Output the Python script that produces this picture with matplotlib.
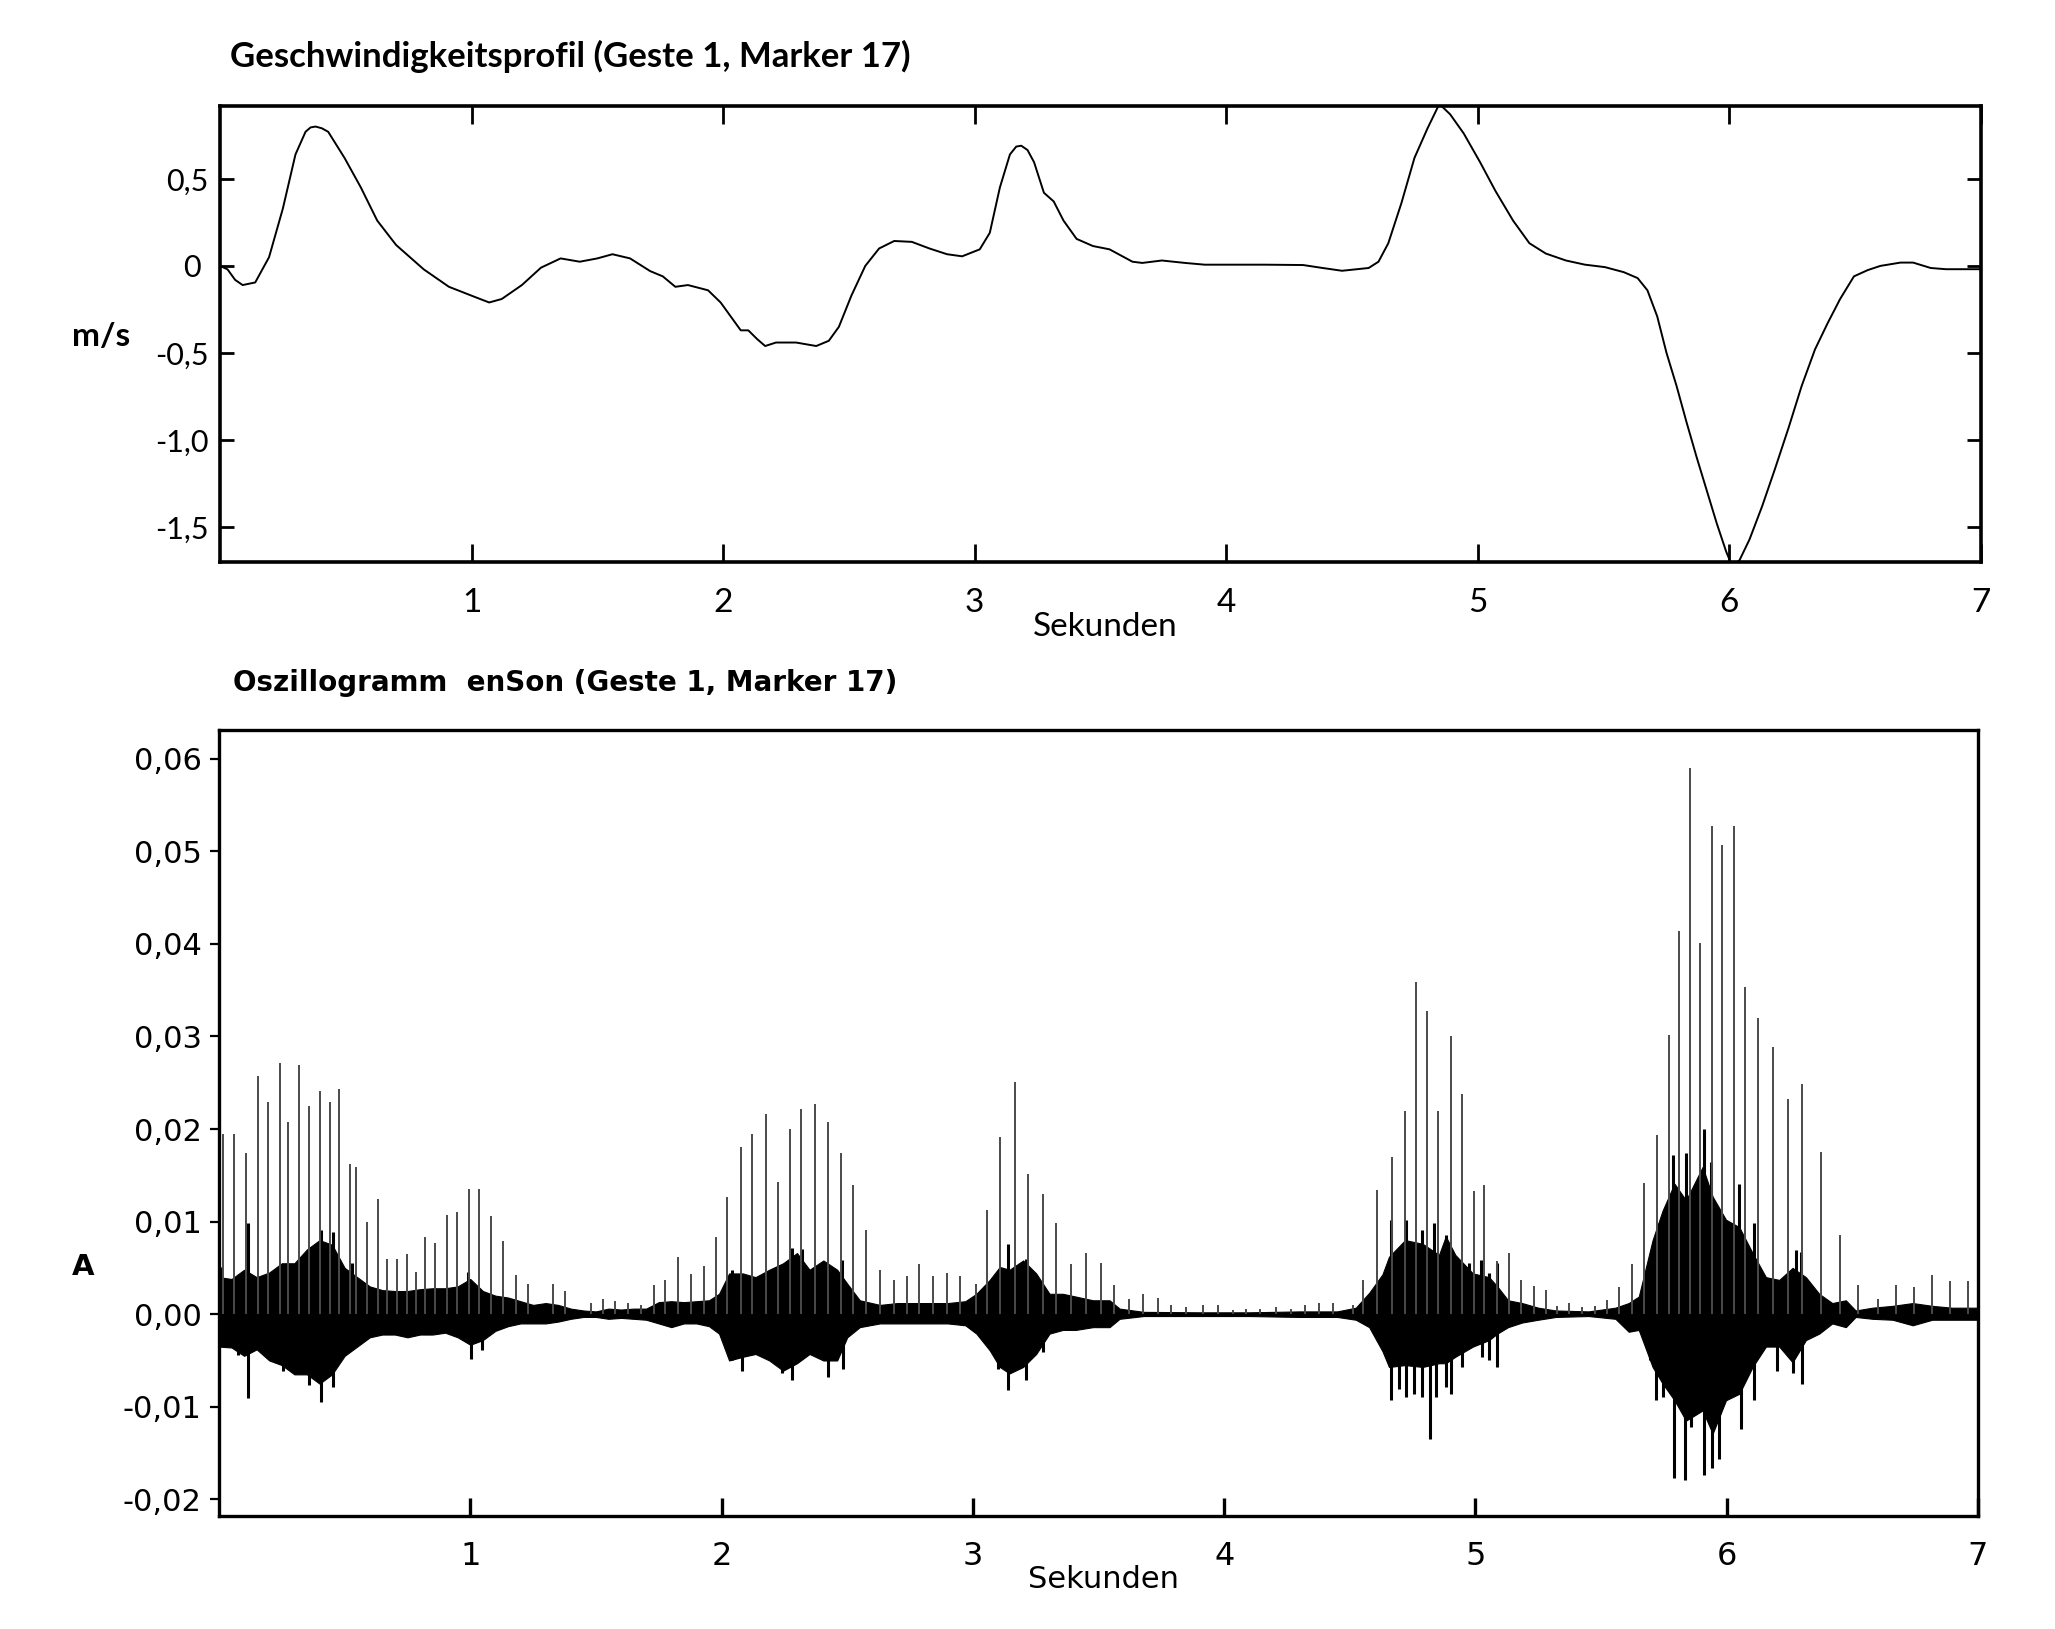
import numpy as np
import matplotlib
matplotlib.use("Agg")
import matplotlib.pyplot as plt

# velocity profile (Geste 1, Marker 17)
VEL_T = [0.00, 0.03, 0.06, 0.09, 0.14, 0.195, 0.25, 0.30, 0.34, 0.36, 0.38, 0.405, 0.43, 0.495, 0.56, 0.625, 0.70,
         0.81, 0.91, 1.016, 1.07, 1.12, 1.20, 1.276, 1.354, 1.43, 1.50, 1.56, 1.63, 1.71, 1.76, 1.81,
         1.86, 1.94, 1.99, 2.04, 2.07, 2.10, 2.135, 2.167, 2.21, 2.29, 2.37, 2.42, 2.46, 2.51, 2.565,
         2.62, 2.68, 2.75, 2.82, 2.89, 2.95, 3.02, 3.06, 3.10, 3.14, 3.165, 3.185, 3.21, 3.236, 3.275, 3.314,
         3.353, 3.405, 3.47, 3.536, 3.627, 3.666, 3.744, 3.836, 3.914, 4.149, 4.305, 4.383, 4.46, 4.566,
         4.605, 4.644, 4.696, 4.748, 4.80, 4.847, 4.89, 4.944, 5.009, 5.07, 5.14, 5.205, 5.27, 5.35,
         5.426, 5.505, 5.58, 5.635, 5.674, 5.713, 5.75, 5.79, 5.83, 5.87, 5.91, 5.95, 5.987, 6.01,
         6.04, 6.08, 6.13, 6.18, 6.235, 6.287, 6.34, 6.39, 6.44, 6.495, 6.55, 6.60, 6.68, 6.73, 6.80,
         6.86, 6.96, 7.00]
VEL_V = [0.0, -0.02, -0.08, -0.11, -0.095, 0.05, 0.33, 0.64, 0.77, 0.795, 0.80, 0.79, 0.77, 0.62, 0.45, 0.26, 0.12,
         -0.02, -0.12, -0.18, -0.21, -0.19, -0.11, -0.01, 0.043, 0.024, 0.043, 0.067, 0.043, -0.03, -0.06, -0.12,
         -0.11, -0.14, -0.21, -0.31, -0.37, -0.37, -0.42, -0.46, -0.44, -0.44, -0.46, -0.43, -0.35, -0.17, 0.0,
         0.10, 0.143, 0.138, 0.10, 0.067, 0.055, 0.095, 0.19, 0.45, 0.64, 0.685, 0.69, 0.665, 0.595, 0.42, 0.37,
         0.26, 0.155, 0.114, 0.095, 0.024, 0.017, 0.031, 0.017, 0.007, 0.007, 0.005, -0.012, -0.028, -0.012,
         0.024, 0.13, 0.36, 0.62, 0.79, 0.93, 0.87, 0.76, 0.595, 0.43, 0.26, 0.13, 0.071, 0.031,
         0.007, -0.007, -0.036, -0.07, -0.14, -0.29, -0.50, -0.69, -0.90, -1.10, -1.29, -1.48, -1.64, -1.72,
         -1.69, -1.57, -1.38, -1.17, -0.93, -0.69, -0.48, -0.33, -0.19, -0.06, -0.024, 0.0, 0.019, 0.019, -0.012,
         -0.019, -0.019, -0.019]

# oscillogram: pulse spikes (amplitude in 1/1000)
SPIKE_T = [0.015, 0.059, 0.106, 0.154, 0.195, 0.241, 0.276, 0.318, 0.359, 0.400, 0.441, 0.477, 0.520, 0.547,
           0.588, 0.631, 0.668, 0.708, 0.747, 0.782, 0.819, 0.859, 0.906, 0.946, 0.994, 1.036, 1.084, 1.129,
           1.182, 1.229, 1.329, 1.376, 1.481,
           1.529, 1.574, 1.627, 1.680, 1.730, 1.774, 1.826, 1.880, 1.931, 1.977, 2.023, 2.077, 2.122, 2.175,
           2.224, 2.271, 2.317, 2.371, 2.424, 2.477, 2.522, 2.575, 2.629, 2.688, 2.738, 2.786, 2.840, 2.896,
           2.949, 3.012,
           3.058, 3.108, 3.168, 3.221, 3.280, 3.332, 3.391, 3.451, 3.509, 3.561, 3.622, 3.679, 3.736, 3.789,
           3.848, 3.915, 3.974, 4.034, 4.087, 4.142, 4.206, 4.266, 4.321, 4.378, 4.435, 4.511,
           4.553, 4.609, 4.667, 4.720, 4.765, 4.806, 4.852, 4.901, 4.948, 4.994, 5.035, 5.087, 5.133, 5.180,
           5.233, 5.282, 5.325, 5.374, 5.425, 5.475, 5.524, 5.573, 5.623, 5.671, 5.724, 5.769, 5.811, 5.854,
           5.895, 5.941, 5.981, 6.029,
           6.072, 6.124, 6.184, 6.242, 6.300, 6.377, 6.449, 6.524, 6.601, 6.672, 6.747, 6.818, 6.890, 6.961]
SPIKE_A = [19.5, 19.5, 17.4, 25.7, 22.9, 27.1, 20.8, 26.9, 22.5, 24.1, 22.9, 24.3, 16.2, 15.9,
           10.0, 12.4, 6.0, 6.0, 6.5, 4.6, 8.3, 7.7, 10.7, 11.0, 13.5, 13.5, 10.6, 7.9,
           4.2, 3.3, 3.3, 2.5, 1.2,
           1.6, 1.4, 1.2, 1.0, 3.1, 3.7, 6.2, 4.3, 5.2, 8.3, 12.7, 18.1, 19.5, 21.6,
           14.3, 20.0, 22.2, 22.7, 20.8, 17.4, 13.9, 9.1, 4.8, 3.7, 4.1, 5.4, 4.1, 4.5,
           4.1, 3.3,
           11.2, 19.1, 25.1, 15.1, 13.0, 9.8, 5.4, 6.6, 5.5, 3.1, 1.6, 2.2, 1.8, 1.0,
           0.8, 1.0, 1.0, 0.4, 0.6, 0.6, 0.8, 0.6, 1.0, 1.2, 1.2, 1.0,
           3.7, 13.4, 17.0, 21.9, 35.9, 32.8, 21.9, 30.1, 23.8, 13.3, 14.0, 5.7, 6.6, 3.7,
           3.0, 2.6, 0.9, 1.2, 0.8, 0.9, 1.5, 2.9, 5.4, 14.2, 19.4, 30.2, 41.4, 59.0,
           40.1, 52.7, 50.7, 52.7,
           35.3, 32.0, 28.9, 23.2, 24.9, 17.5, 8.6, 3.2, 1.6, 3.2, 2.9, 4.2, 3.6, 3.6]

# noise band envelope (1/1000)
ENV_T = [0.00, 0.05, 0.10, 0.15, 0.20, 0.25, 0.30, 0.35, 0.40, 0.45, 0.50, 0.55, 0.60, 0.65, 0.70,
         0.75, 0.80, 0.85, 0.90, 0.95, 1.00, 1.05, 1.10, 1.15, 1.20, 1.25, 1.30, 1.35, 1.40, 1.45,
         1.50, 1.55, 1.60, 1.65, 1.70, 1.75, 1.80, 1.85, 1.90, 1.95, 1.99, 2.03, 2.085, 2.135, 2.19,
         2.245, 2.30, 2.35, 2.405, 2.46, 2.50, 2.55, 2.63, 2.70, 2.80, 2.90, 2.97, 3.014, 3.067, 3.107,
         3.146, 3.20, 3.252, 3.305, 3.358, 3.41, 3.478, 3.544, 3.584, 3.68, 3.90, 4.10, 4.30, 4.45,
         4.524, 4.577, 4.63, 4.656, 4.72, 4.79, 4.855, 4.882, 4.92, 4.99, 5.054, 5.087, 5.13,
         5.186, 5.25, 5.32, 5.45, 5.557, 5.61, 5.65, 5.705, 5.745, 5.792, 5.838, 5.904, 5.944,
         5.997, 6.05, 6.103, 6.156, 6.209, 6.262, 6.315, 6.368, 6.42, 6.474, 6.513,
         6.58, 6.66, 6.74, 6.818, 6.897, 6.977, 7.0]
ENV_UP = [4.0, 3.8, 4.8, 4.0, 4.5, 5.5, 5.5, 7.0, 8.0, 7.5, 5.0, 4.0, 3.0, 2.6, 2.5,
          2.5, 2.7, 2.8, 2.8, 3.0, 3.8, 2.5, 2.0, 1.8, 1.4, 1.0, 1.2, 1.0, 0.6, 0.4,
          0.3, 0.6, 0.5, 0.6, 0.6, 1.3, 1.4, 1.3, 1.4, 1.5, 2.2, 4.4, 4.4, 4.0, 4.8,
          5.5, 6.6, 4.8, 5.8, 4.8, 3.3, 1.5, 1.0, 1.2, 1.2, 1.2, 1.4, 2.2, 3.7, 5.1,
          4.8, 5.8, 4.4, 2.2, 2.2, 1.9, 1.5, 1.5, 0.6, 0.25, 0.2, 0.2, 0.3, 0.3,
          0.7, 2.3, 4.3, 6.2, 8.0, 7.6, 6.4, 8.4, 6.4, 4.4, 4.0, 3.0, 1.5,
          1.2, 0.7, 0.4, 0.3, 0.7, 1.2, 1.9, 8.0, 11.2, 14.1, 12.3, 15.9, 12.7,
          10.2, 9.4, 6.6, 4.0, 3.7, 5.0, 4.0, 2.2, 1.2, 1.5, 0.4,
          0.7, 0.9, 1.2, 0.9, 0.7, 0.7, 0.7]
ENV_LO = [-3.5, -3.6, -4.5, -3.8, -5.0, -5.5, -6.5, -6.5, -7.5, -6.5, -4.5, -3.5, -2.5, -2.2, -2.2,
          -2.5, -2.2, -2.2, -2.0, -2.5, -3.3, -2.8, -1.8, -1.3, -1.0, -1.0, -1.0, -0.8, -0.5, -0.3,
          -0.3, -0.5, -0.4, -0.5, -0.6, -1.0, -1.4, -1.0, -1.0, -1.3, -2.1, -5.0, -4.6, -4.3, -5.0,
          -6.1, -5.3, -4.3, -5.0, -5.0, -2.5, -1.4, -1.0, -1.0, -1.0, -1.0, -1.2, -2.1, -3.9, -5.7,
          -6.4, -5.7, -4.3, -2.1, -1.7, -1.7, -1.4, -1.4, -0.5, -0.2, -0.2, -0.2, -0.3, -0.3,
          -0.6, -1.4, -4.0, -5.7, -5.5, -5.7, -5.3, -5.3, -4.6, -3.5, -2.8, -2.1, -1.4,
          -0.9, -0.6, -0.3, -0.2, -0.5, -1.9, -1.7, -5.7, -7.5, -9.3, -11.5, -10.4, -12.9,
          -9.3, -8.6, -5.7, -3.5, -3.5, -5.2, -2.8, -2.1, -1.0, -1.4, -0.3,
          -0.5, -0.6, -1.2, -0.6, -0.6, -0.6, -0.6]

# strong strokes inside the band (1/1000)
BURST_T = [0.008, 0.114, 0.366, 0.406, 0.452, 0.531, 0.991, 2.041, 2.227, 2.28, 2.32, 2.478,
           3.14, 3.213, 4.663, 4.723, 4.789, 4.835, 4.882, 4.908, 4.948, 4.974, 5.021, 5.054, 5.087,
           5.732, 5.785, 5.838, 5.908, 5.937, 6.05, 6.11, 6.275, 6.295]
BURST_UP = [5.1, 9.9, 6.9, 9.1, 8.9, 5.5, 4.6, 4.8, 5.3, 7.1, 7.0, 5.8,
            7.6, 6.0, 10.2, 10.2, 9.1, 9.8, 8.5, 6.9, 4.7, 5.5, 5.8, 4.4, 5.5,
            9.8, 17.2, 17.4, 20.0, 16.4, 14.1, 9.8, 6.9, 6.7]
DIP_T = [0.075, 0.114, 0.253, 0.306, 0.359, 0.406, 0.452, 1.002, 1.048, 2.041, 2.081, 2.24, 2.28,
         2.425, 2.485, 3.10, 3.14, 3.213, 3.279,
         4.663, 4.696, 4.723, 4.756, 4.789, 4.818, 4.842, 4.882, 4.901, 4.948, 5.027, 5.054, 5.087,
         5.696, 5.719, 5.745, 5.789, 5.835, 5.858, 5.908, 5.941, 5.97, 6.057, 6.11, 6.202, 6.262, 6.30]
DIP_LO = [-4.4, -9.1, -6.1, -6.4, -7.7, -9.5, -7.9, -4.8, -3.9, -5.0, -6.1, -6.4, -7.1,
          -6.8, -5.9, -5.9, -8.2, -7.1, -4.1,
          -9.3, -8.1, -8.9, -8.6, -8.9, -13.5, -8.9, -7.9, -8.6, -5.7, -4.6, -5.0, -5.7,
          -5.0, -9.3, -8.9, -17.7, -17.9, -12.2, -17.4, -16.6, -15.6, -12.4, -9.3, -6.1, -6.4, -7.5]

X_TICKS = [1, 2, 3, 4, 5, 6, 7]
X_LABELS = ["1", "2", "3", "4", "5", "6", "7"]
V_TICKS = [0.5, 0.0, -0.5, -1.0, -1.5]
V_LABELS = ["0,5", "0 ", "-0,5", "-1,0", "-1,5"]
A_TICKS = [0.06, 0.05, 0.04, 0.03, 0.02, 0.01, 0.0, -0.01, -0.02]
A_LABELS = ["0,06", "0,05", "0,04", "0,03", "0,02", "0,01", "0,00", "-0,01", "-0,02"]

W, H = 2055, 1629
fig = plt.figure(figsize=(W / 100, H / 100), dpi=100)

TOP_FONT = "Lato"
BOT_FONT = "DejaVu Sans"

# ---- top panel: velocity
ax1 = fig.add_axes([220 / W, 1 - 562 / H, (1981 - 220) / W, (562 - 106) / H])
ax1.plot(VEL_T, VEL_V, color="black", lw=1.4)
ax1.set_xlim(0, 7)
ax1.set_ylim(-1.70, 0.918)
ax1.set_xticks(X_TICKS)
ax1.set_xticklabels(X_LABELS, fontfamily=TOP_FONT, fontsize=24)
ax1.set_yticks(V_TICKS)
ax1.set_yticklabels(V_LABELS, fontfamily=TOP_FONT, fontsize=22)
ax1.tick_params(axis="x", direction="in", length=13, width=2.0, pad=19, top=True)
ax1.tick_params(axis="y", direction="in", length=10, width=2.0, pad=8, right=True)
for s in ax1.spines.values():
    s.set_linewidth(2.6)

fig.text(230 / W, 1 - 56 / H, "Geschwindigkeitsprofil (Geste 1, Marker 17)",
         fontfamily=TOP_FONT, fontweight="bold", fontsize=25, ha="left", va="center")
fig.text(101 / W, 1 - 336 / H, "m/s", fontfamily=TOP_FONT, fontweight="bold",
         fontsize=24, ha="center", va="center")
fig.text(1105 / W, 1 - 627 / H, "Sekunden", fontfamily=TOP_FONT, fontsize=24,
         ha="center", va="center")

# ---- bottom panel: oscillogram
ax2 = fig.add_axes([219 / W, 1 - 1516 / H, (1978 - 219) / W, (1516 - 730) / H])
env_up = np.array(ENV_UP) * 1e-3
env_lo = np.array(ENV_LO) * 1e-3
ax2.fill_between(ENV_T, env_lo, env_up, color="black", lw=0.8, edgecolor="black")
ax2.plot([0, 7], [0, 0], color="black", lw=1.0)
ax2.vlines(BURST_T, 0, np.array(BURST_UP) * 1e-3, color="black", lw=2.2)
ax2.vlines(DIP_T, 0, np.array(DIP_LO) * 1e-3, color="black", lw=2.2)
ax2.vlines(SPIKE_T, 0, np.array(SPIKE_A) * 1e-3, color="#4a4a4a", lw=1.4)
ax2.set_xlim(0, 7)
ax2.set_ylim(-0.0218, 0.0631)
ax2.set_xticks(X_TICKS)
ax2.set_xticklabels(X_LABELS, fontfamily=BOT_FONT, fontsize=23)
ax2.set_yticks(A_TICKS)
ax2.set_yticklabels(A_LABELS, fontfamily=BOT_FONT, fontsize=22)
ax2.tick_params(axis="x", direction="in", length=13, width=2.4, pad=18)
ax2.tick_params(axis="y", direction="out", length=6.5, width=1.6, pad=6)
for s in ax2.spines.values():
    s.set_linewidth(2.4)

fig.text(233 / W, 1 - 683 / H, "Oszillogramm  enSon (Geste 1, Marker 17)",
         fontfamily=BOT_FONT, fontweight="bold", fontsize=20, ha="left", va="center")
fig.text(83 / W, 1 - 1267 / H, "A", fontfamily=BOT_FONT, fontweight="bold",
         fontsize=21, ha="center", va="center")
fig.text(1104 / W, 1 - 1579 / H, "Sekunden", fontfamily=BOT_FONT, fontsize=22,
         ha="center", va="center")

fig.savefig("out.png", dpi=100)
